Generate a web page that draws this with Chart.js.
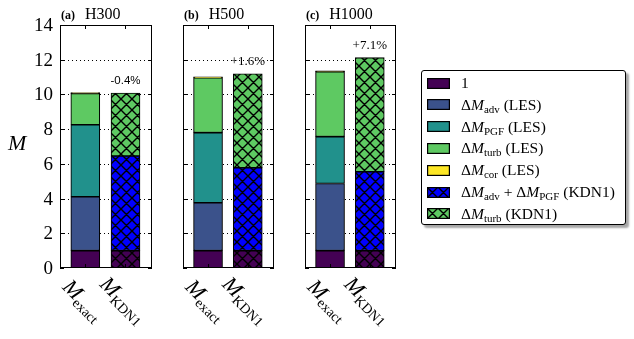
<!DOCTYPE html>
<html><head><meta charset="utf-8">
<script src="https://cdn.jsdelivr.net/npm/chart.js@4.4.1/dist/chart.umd.min.js"></script>
<style>
body{margin:0;background:#fff;width:634px;height:339px;position:relative;overflow:hidden;font-family:'Liberation Serif',serif;}
canvas.panel{position:absolute;top:0;}
#legend{position:absolute;left:421px;top:70px;width:203px;height:153px;border:1px solid #000;border-radius:3px;background:#fff;box-shadow:3px 3px 2px rgba(0,0,0,0.35);}
.row{position:absolute;left:5px;height:22px;display:flex;align-items:center;white-space:nowrap;font-size:15.5px;color:#000;}
.row canvas{margin-right:11px;}
.row i{font-style:italic;}
.row sub{font-size:11px;vertical-align:-3px;line-height:0;}
</style></head><body>
<canvas id="c0" class="panel" width="160" height="339" style="left:0px"></canvas>
<canvas id="c1" class="panel" width="122" height="339" style="left:160px"></canvas>
<canvas id="c2" class="panel" width="122" height="339" style="left:282px"></canvas>
<div id="legend"></div>
<script>
// ---- data ----
const panelNames = ['H300', 'H500', 'H1000'];
const panelTags = ['(a)', '(b)', '(c)'];
const categoryPositions = [0, 1];
const categorySubs = ['exact', 'KDN1'];
const yTicks = [0, 2, 4, 6, 8, 10, 12, 14];
const baseOne = [1.0, 1.0, 1.0];
const dAdvLES = [3.10, 2.76, 3.87];
const dPgfLES = [4.15, 4.04, 2.70];
const dTurbLES = [1.80, 3.16, 3.74];
const dCorLES = [0.06, 0.05, 0.05];
const dAdvPgfKDN1 = [5.45, 4.78, 4.55];
const dTurbKDN1 = [3.63, 5.41, 6.57];
const changeText = ['-0.4%', '+1.6%', '+7.1%'];
const legendLabels = [
  '1',
  'Δ<i>M</i><sub>adv</sub> (LES)',
  'Δ<i>M</i><sub>PGF</sub> (LES)',
  'Δ<i>M</i><sub>turb</sub> (LES)',
  'Δ<i>M</i><sub>cor</sub> (LES)',
  'Δ<i>M</i><sub>adv</sub> + Δ<i>M</i><sub>PGF</sub> (KDN1)',
  'Δ<i>M</i><sub>turb</sub> (KDN1)'
];

// ---- styles ----
const C_ONE = '#440154', C_ADV = '#3b528b', C_PGF = '#21918c', C_TURB = '#5ec962', C_COR = '#fde725', C_BLUE = '#0000ff';
const legendColors = [C_ONE, C_ADV, C_PGF, C_TURB, C_COR, C_BLUE, C_TURB];
const legendHatched = [false, false, false, false, false, true, true];
const SERIF = '"Liberation Serif"';
Chart.defaults.font.family = SERIF;

function hatchTile(color) {
  const T = 11;
  const c = document.createElement('canvas');
  c.width = c.height = T;
  const g = c.getContext('2d');
  g.fillStyle = color; g.fillRect(0, 0, T, T);
  g.strokeStyle = '#000'; g.lineWidth = 1.4;
  g.beginPath();
  for (let k = -1; k <= 1; k++) {
    g.moveTo(k * T, 0); g.lineTo(k * T + T, T);
    g.moveTo(k * T + T, 0); g.lineTo(k * T, T);
  }
  g.stroke();
  return c;
}

function drawMLabel(ctx, cx, cy, sub) {
  ctx.save();
  ctx.translate(cx, cy);
  ctx.rotate(Math.PI / 4);
  ctx.fillStyle = '#000';
  ctx.textBaseline = 'alphabetic';
  ctx.textAlign = 'left';
  ctx.font = 'italic 22px ' + SERIF;
  const wM = ctx.measureText('M').width;
  ctx.font = '14px ' + SERIF;
  const wS = ctx.measureText(sub).width;
  let x = -(wM + wS) / 2;
  ctx.font = 'italic 22px ' + SERIF;
  ctx.fillText('M', x, 7);
  ctx.font = '14px ' + SERIF;
  ctx.fillText(sub, x + wM, 11);
  ctx.restore();
}

function decoPlugin(p) {
  return {
    id: 'deco' + p,
    beforeDatasetsDraw(chart) {
      const ctx = chart.ctx, a = chart.chartArea, ys = chart.scales.y;
      ctx.save();
      ctx.strokeStyle = '#000'; ctx.lineWidth = 1; ctx.setLineDash([1, 3]);
      for (const v of yTicks) {
        if (v <= 0 || v >= 14) continue;
        const y = Math.round(ys.getPixelForValue(v)) + 0.5;
        ctx.beginPath(); ctx.moveTo(a.left, y); ctx.lineTo(a.right, y); ctx.stroke();
      }
      ctx.restore();
    },
    afterDraw(chart) {
      const ctx = chart.ctx, a = chart.chartArea, ys = chart.scales.y, xs = chart.scales.x;
      ctx.save();
      // frame
      ctx.strokeStyle = '#000'; ctx.lineWidth = 1; ctx.setLineDash([]);
      ctx.strokeRect(a.left + 0.5, a.top + 0.5, a.right - a.left - 1, a.bottom - a.top - 1);
      // inward ticks
      ctx.beginPath();
      for (const v of yTicks) {
        const y = Math.round(ys.getPixelForValue(v)) + 0.5;
        ctx.moveTo(a.left, y); ctx.lineTo(a.left + 4, y);
        ctx.moveTo(a.right, y); ctx.lineTo(a.right - 4, y);
      }
      for (const xv of categoryPositions) {
        const x = Math.round(xs.getPixelForValue(xv)) + 0.5;
        ctx.moveTo(x, a.top); ctx.lineTo(x, a.top + 4);
        ctx.moveTo(x, a.bottom); ctx.lineTo(x, a.bottom - 4);
      }
      ctx.stroke();
      ctx.fillStyle = '#000';
      // y tick labels (panel a only)
      if (p === 0) {
        ctx.textAlign = 'right'; ctx.textBaseline = 'middle';
        ctx.font = '19px ' + SERIF;
        for (const v of yTicks) ctx.fillText(String(v), a.left - 7, ys.getPixelForValue(v) + 1);
      }
      // title
      ctx.textBaseline = 'alphabetic'; ctx.textAlign = 'left';
      ctx.font = 'bold 12px ' + SERIF;
      ctx.fillText(panelTags[p], a.left + 1, 18.5);
      const wt = ctx.measureText(panelTags[p]).width;
      ctx.font = '16px ' + SERIF;
      ctx.fillText(panelNames[p], a.left + 1 + wt + 10, 18.5);
      // change annotation
      const totK = baseOne[p] + dAdvPgfKDN1[p] + dTurbKDN1[p];
      ctx.textAlign = 'center';
      ctx.font = p === 0 ? '11.5px "Liberation Sans"' : '13px ' + SERIF;
      ctx.fillText(changeText[p], xs.getPixelForValue(1), ys.getPixelForValue(totK) - 9);
      // x labels
      categoryPositions.forEach((xv, i) => {
        drawMLabel(ctx, xs.getPixelForValue(xv) - 2, 300, categorySubs[i]);
      });
      // y title
      if (p === 0) {
        ctx.textAlign = 'left';
        ctx.font = 'italic 22px ' + SERIF;
        ctx.fillText('M', 8, 150);
      }
      ctx.restore();
    }
  };
}

function makeChart(p) {
  const canvas = document.getElementById('c' + p);
  const ctx = canvas.getContext('2d');
  const purpleHatch = ctx.createPattern(hatchTile(C_ONE), 'repeat');
  const blueHatch = ctx.createPattern(hatchTile(C_BLUE), 'repeat');
  const greenHatch = ctx.createPattern(hatchTile(C_TURB), 'repeat');
  const common = { borderColor: '#000', borderWidth: 1.1, borderSkipped: false, barThickness: 29 };
  new Chart(ctx, {
    type: 'bar',
    data: {
      datasets: [
        Object.assign({ label: '1', data: [{ x: 0, y: baseOne[p] }, { x: 1, y: baseOne[p] }], backgroundColor: [C_ONE, purpleHatch] }, common),
        Object.assign({ label: 'adv LES', data: [{ x: 0, y: dAdvLES[p] }], backgroundColor: C_ADV }, common),
        Object.assign({ label: 'PGF LES', data: [{ x: 0, y: dPgfLES[p] }], backgroundColor: C_PGF }, common),
        Object.assign({ label: 'turb LES', data: [{ x: 0, y: dTurbLES[p] }], backgroundColor: C_TURB }, common),
        Object.assign({ label: 'cor LES', data: [{ x: 0, y: dCorLES[p] }], backgroundColor: C_COR }, common, { borderWidth: 1.5 }),
        Object.assign({ label: 'adv+PGF KDN1', data: [{ x: 1, y: dAdvPgfKDN1[p] }], backgroundColor: blueHatch }, common),
        Object.assign({ label: 'turb KDN1', data: [{ x: 1, y: dTurbKDN1[p] }], backgroundColor: greenHatch }, common)
      ]
    },
    options: {
      responsive: false, animation: false, devicePixelRatio: 1,
      layout: { padding: { top: 25, right: 8, left: 0, bottom: 0 } },
      plugins: { legend: { display: false }, tooltip: { enabled: false } },
      scales: {
        x: {
          type: 'linear', stacked: true, min: -0.63, max: 1.66, offset: false,
          grid: { display: false }, border: { display: false },
          ticks: { display: false },
          afterFit: s => { s.height = 71; }
        },
        y: {
          stacked: true, min: 0, max: 14,
          grid: { display: false }, border: { display: false },
          afterBuildTicks: s => { s.ticks = yTicks.map(v => ({ value: v })); },
          ticks: { display: false },
          afterFit: s => { s.width = p === 0 ? 60 : 23; }
        }
      }
    },
    plugins: [decoPlugin(p)]
  });
}
[0, 1, 2].forEach(makeChart);

// ---- legend ----
const leg = document.getElementById('legend');
legendLabels.forEach((lab, i) => {
  const row = document.createElement('div');
  row.className = 'row';
  row.style.top = (1 + i * 21.8) + 'px';
  const sw = document.createElement('canvas');
  sw.width = 23; sw.height = 11;
  const g = sw.getContext('2d');
  g.fillStyle = legendHatched[i] ? g.createPattern(hatchTile(legendColors[i]), 'repeat') : legendColors[i];
  g.fillRect(0, 0, 23, 11);
  g.strokeStyle = '#000'; g.lineWidth = 1.2;
  g.strokeRect(0.6, 0.6, 21.8, 9.8);
  row.appendChild(sw);
  const t = document.createElement('span');
  t.innerHTML = lab;
  row.appendChild(t);
  leg.appendChild(row);
});
</script>
</body></html>
